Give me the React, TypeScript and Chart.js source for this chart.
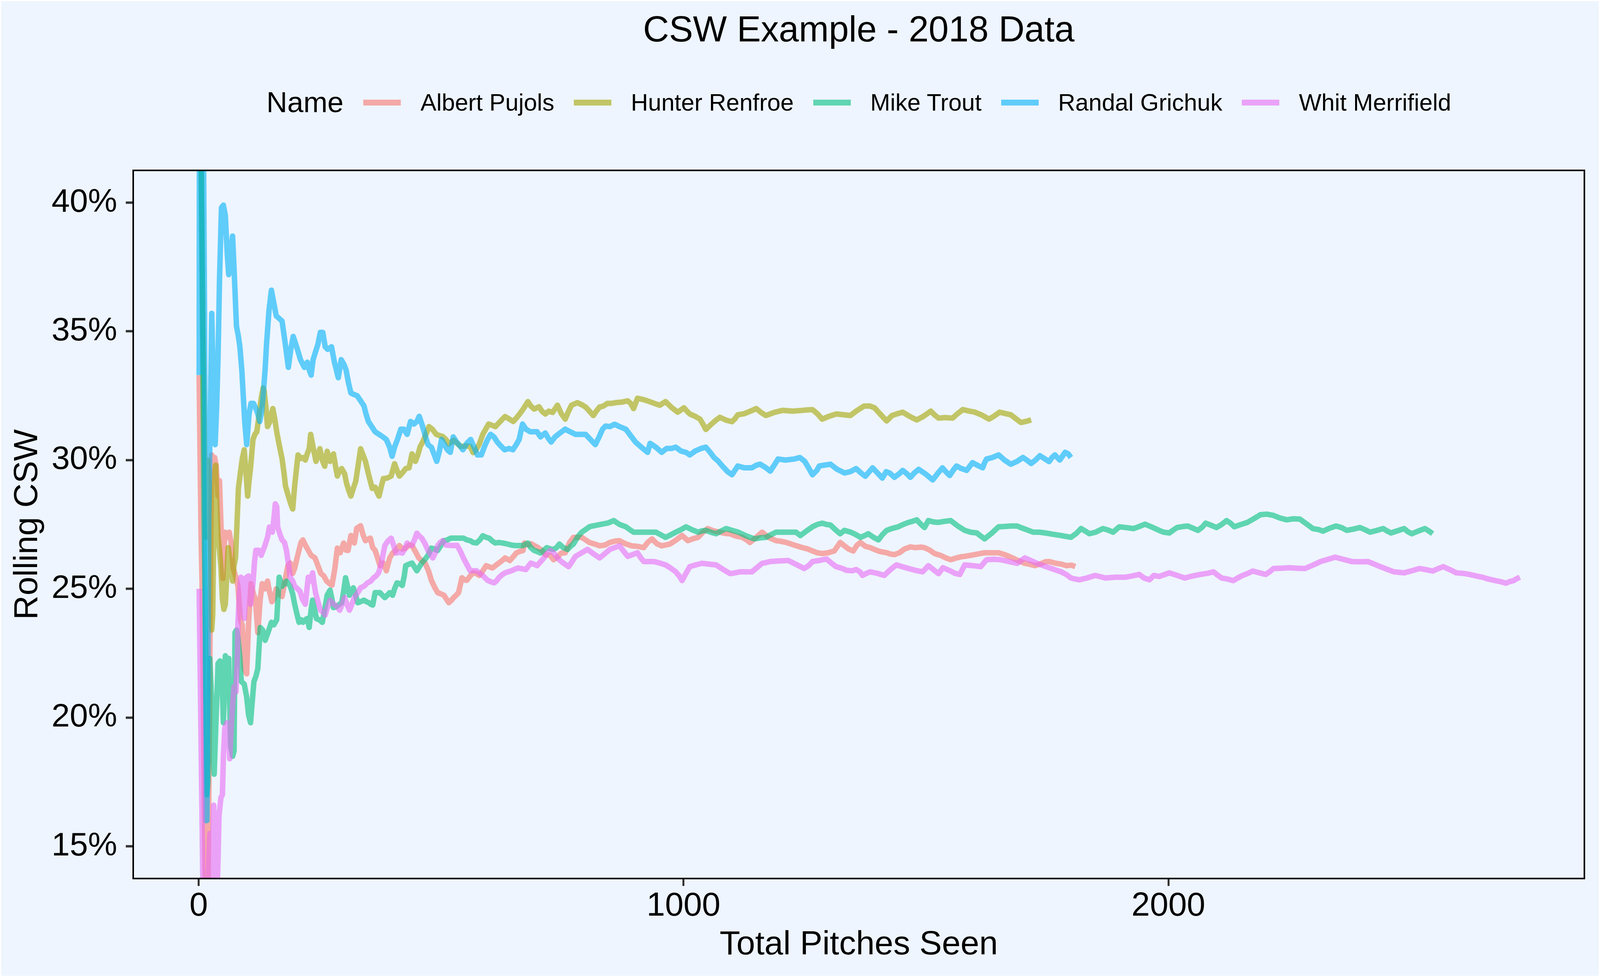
import { useEffect, useRef } from "react";
import { Chart, registerables } from "chart.js";

Chart.register(...registerables);

const title = "CSW Example - 2018 Data";
const legendTitle = "Name";
const xAxisTitle = "Total Pitches Seen";
const yAxisTitle = "Rolling CSW";

const names = ["Albert Pujols", "Hunter Renfroe", "Mike Trout", "Randal Grichuk", "Whit Merrifield"];
const colors = ["#F8766D", "#A3A500", "#00BF7D", "#00B0F6", "#E76BF3"];

const xTickValues = [0, 1000, 2000];
const yTickValues = [15, 20, 25, 30, 35, 40];

// Albert Pujols
const pujolsPitches = [
  1, 3, 5, 7, 9, 11, 13, 15, 17, 19, 21, 23, 25, 27, 30, 33, 36, 40, 43, 46, 50, 54, 58, 63, 67, 71, 76, 81, 86, 90,
  94, 99, 103, 108, 113, 117, 122, 127, 131, 137, 142, 146, 151, 155, 160, 165, 172, 179, 184, 189, 194, 198, 203, 207,
  211, 215, 220, 226, 232, 240, 246, 252, 258, 264, 270, 275, 281, 286, 292, 299, 304, 308, 314, 321, 326, 334, 339,
  344, 354, 359, 364, 369, 374, 381, 387, 394, 400, 407, 414, 420, 427, 434, 440, 447, 454, 460, 467, 474, 480, 487,
  493, 500, 506, 511, 516, 521, 526, 531, 536, 543, 548, 553, 560, 566, 572, 579, 586, 593, 600, 606, 612, 619, 626,
  632, 637, 642, 649, 655, 662, 669, 672, 680, 686, 692, 700, 708, 715, 725, 732, 738, 748, 756, 765, 773, 781, 790,
  798, 806, 815, 827, 838, 848, 858, 868, 880, 893, 905, 918, 926, 935, 945, 955, 963, 972, 985, 997, 1009, 1020, 1030,
  1040, 1050, 1062, 1075, 1086, 1096, 1108, 1121, 1130, 1137, 1150, 1162, 1175, 1191, 1200, 1212, 1228, 1245, 1256,
  1266, 1276, 1286, 1298, 1311, 1323, 1332, 1340, 1350, 1358, 1365, 1375, 1385, 1394, 1405, 1419, 1427, 1435, 1445,
  1456, 1468, 1478, 1490, 1497, 1508, 1518, 1530, 1541, 1551, 1563, 1574, 1580, 1592, 1606, 1621, 1635, 1650, 1662,
  1675, 1690, 1704, 1715, 1725, 1738, 1746, 1754, 1766, 1779, 1790, 1800, 1808,
];
const pujolsCsw = [
  33.3, 30, 27, 25.2, 22, 18, 14.5, 12, 10, 13, 17, 22, 27, 30.2, 29.5, 30.1, 29.8, 28.6, 29.2, 27.5, 25.4, 27.2, 27.0,
  27.2, 26.8, 25.8, 25.5, 25.1, 23.8, 23.6, 21.9, 21.7, 23.7, 25.2, 24.8, 24.6, 23.3, 24.6, 25.2, 25.0, 25.3, 24.9,
  24.5, 24.6, 25.0, 24.8, 24.7, 25.4, 25.9, 26.0, 25.6, 25.8, 26.2, 26.5, 26.8, 26.9, 26.7, 26.5, 26.3, 26.2, 25.9,
  25.6, 25.5, 25.3, 25.2, 25.14, 25.8, 26.58, 26.4, 26.78, 26.5, 26.49, 27.07, 26.78, 27.35, 27.45, 27.1, 26.87, 26.97,
  26.6, 26.49, 26.2, 25.9, 26.0, 25.7, 26.2, 26.39, 26.5, 26.68, 26.55, 26.58, 26.7, 26.68, 26.45, 26.2, 26.1, 26.0,
  25.7, 25.33, 25.05, 24.85, 24.8, 24.75, 24.6, 24.46, 24.55, 24.66, 24.75, 24.85, 25.43, 25.35, 25.33, 25.5, 25.62,
  25.6, 25.52, 25.7, 25.9, 25.85, 25.81, 25.9, 26.0, 26.1, 26.2, 26.15, 26.1, 26.25, 26.39, 26.45, 26.49, 26.78, 26.7,
  26.75, 26.68, 26.6, 26.49, 26.33, 26.3, 26.13, 26.2, 26.39, 26.4, 26.8, 27.0, 27.0, 27.0, 26.9, 26.8, 26.75, 26.67,
  26.7, 26.8, 26.85, 26.87, 26.75, 26.67, 26.65, 26.6, 26.8, 26.94, 26.75, 26.67, 26.7, 26.74, 26.9, 27.07, 26.87,
  26.95, 27.0, 27.2, 27.34, 27.25, 27.2, 27.15, 27.14, 27.05, 27.0, 26.9, 26.8, 27.0, 27.2, 27.0, 26.87, 26.85, 26.8,
  26.7, 26.6, 26.55, 26.47, 26.4, 26.37, 26.4, 26.47, 26.8, 26.67, 26.55, 26.47, 26.7, 26.8, 26.65, 26.6, 26.53, 26.45,
  26.4, 26.35, 26.33, 26.4, 26.55, 26.63, 26.6, 26.62, 26.6, 26.5, 26.37, 26.3, 26.2, 26.13, 26.2, 26.25, 26.26, 26.3,
  26.35, 26.4, 26.4, 26.4, 26.33, 26.23, 26.1, 25.99, 25.95, 25.9, 25.98, 26.05, 26.06, 26.0, 25.96, 25.9, 25.92, 25.86,
];

// Hunter Renfroe
const renfroePitches = [
  1, 3, 5, 7, 9, 11, 13, 15, 17, 19, 21, 23, 25, 27, 29, 31, 33, 35, 37, 40, 43, 46, 49, 52, 55, 58, 61, 64, 67, 70, 73,
  76, 79, 82, 86, 90, 94, 98, 101, 104, 107, 112, 116, 120, 125, 129, 133, 135, 139, 142, 147, 150, 153, 157, 161, 166,
  172, 176, 179, 185, 190, 194, 198, 202, 205, 211, 216, 220, 225, 228, 231, 236, 242, 246, 250, 255, 260, 265, 271,
  278, 282, 286, 291, 295, 301, 305, 310, 314, 319, 324, 329, 334, 339, 344, 351, 358, 364, 368, 372, 377, 381, 389,
  397, 404, 409, 414, 420, 427, 434, 440, 447, 452, 457, 462, 467, 471, 475, 482, 490, 497, 503, 510, 516, 521, 526,
  533, 540, 550, 560, 566, 572, 579, 586, 592, 598, 605, 612, 617, 622, 627, 632, 640, 649, 656, 662, 670, 679, 685,
  692, 702, 708, 715, 722, 730, 740, 748, 756, 763, 769, 775, 781, 790, 798, 806, 814, 820, 827, 835, 843, 851, 860,
  872, 885, 891, 897, 905, 917, 930, 940, 951, 957, 963, 975, 988, 995, 1001, 1007, 1013, 1024, 1034, 1040, 1046, 1052,
  1059, 1067, 1075, 1088, 1100, 1106, 1112, 1125, 1138, 1150, 1160, 1170, 1187, 1204, 1225, 1245, 1256, 1266, 1276,
  1286, 1300, 1315, 1330, 1344, 1356, 1364, 1373, 1384, 1394, 1405, 1419, 1430, 1441, 1452, 1466, 1481, 1495, 1510,
  1518, 1526, 1540, 1555, 1565, 1576, 1590, 1601, 1615, 1630, 1640, 1652, 1665, 1675, 1686, 1696, 1706, 1717,
];
const renfroeCsw = [
  50, 45, 42, 38, 35, 32, 29, 27, 29.5, 30, 29, 28, 26, 23.4, 24, 27, 29.5, 29.8, 28.5, 27, 26.5, 25.8, 24.6, 24.2,
  24.4, 25.5, 26.6, 26.2, 25.8, 25.3, 25.9, 26.2, 27.5, 28.9, 29.5, 30.06, 30.4, 29.4, 28.6, 29.2, 29.7, 30.8, 31.0,
  31.1, 31.8, 32.4, 32.8, 32.7, 32.0, 31.3, 31.5, 31.8, 32.0, 31.6, 31.1, 30.6, 30.06, 29.5, 29.0, 28.6, 28.3, 28.1,
  29.0, 29.7, 30.2, 30.06, 30.1, 30.0, 30.3, 30.44, 31.0, 30.5, 29.95, 30.2, 30.44, 30.0, 29.76, 30.34, 29.95, 30.24,
  29.8, 29.38, 29.6, 29.67, 29.47, 29.1, 28.8, 28.6, 28.9, 29.18, 29.8, 30.44, 30.2, 29.95, 29.4, 28.9, 28.95, 28.75,
  28.6, 29.0, 29.28, 29.3, 29.38, 29.86, 29.6, 29.38, 29.5, 29.67, 29.7, 30.24, 29.95, 30.2, 30.53, 30.7, 30.92, 31.1,
  31.3, 31.2, 31.0, 30.95, 30.92, 30.8, 30.63, 30.7, 30.77, 30.65, 30.53, 30.55, 30.53, 30.29, 30.4, 30.63, 31.0, 31.2,
  31.4, 31.35, 31.3, 31.4, 31.5, 31.6, 31.69, 31.6, 31.5, 31.65, 31.79, 32.0, 32.27, 32.1, 31.98, 32.07, 31.9, 31.79,
  31.9, 31.85, 32.13, 31.8, 31.59, 31.9, 32.13, 32.18, 32.23, 32.15, 32.06, 31.9, 31.73, 31.9, 32.06, 32.1, 32.2, 32.2,
  32.23, 32.25, 32.3, 32.2, 32.0, 32.4, 32.35, 32.27, 32.2, 32.13, 32.2, 32.27, 32.05, 31.86, 31.95, 32.03, 31.9, 31.79,
  31.7, 31.59, 31.4, 31.19, 31.3, 31.42, 31.55, 31.66, 31.55, 31.49, 31.6, 31.76, 31.8, 31.9, 32.0, 31.85, 31.73,
  31.85, 31.93, 31.9, 31.93, 31.95, 31.96, 31.8, 31.59, 31.7, 31.79, 31.76, 31.73, 31.9, 32.0, 32.1, 32.1, 32.03, 31.8,
  31.52, 31.73, 31.8, 31.86, 31.7, 31.56, 31.7, 31.9, 31.75, 31.63, 31.65, 31.63, 31.8, 31.96, 31.9, 31.86, 31.75,
  31.59, 31.7, 31.86, 31.8, 31.76, 31.6, 31.46, 31.5, 31.56,
];

// Mike Trout
const troutPitches = [
  1, 3, 5, 7, 9, 11, 13, 15, 17, 19, 21, 23, 26, 29, 32, 35, 38, 40, 44, 47, 49, 51, 53, 55, 59, 62, 64, 66, 70, 73, 75,
  78, 81, 85, 88, 94, 99, 103, 107, 110, 114, 118, 122, 127, 132, 137, 143, 150, 155, 161, 166, 172, 177, 181, 185,
  189, 194, 198, 203, 207, 211, 215, 220, 224, 228, 232, 235, 239, 243, 249, 255, 260, 265, 271, 275, 278, 283, 288,
  295, 299, 303, 307, 311, 315, 319, 324, 328, 334, 341, 346, 351, 355, 359, 364, 369, 374, 379, 384, 389, 394, 400,
  404, 409, 415, 420, 424, 427, 433, 440, 445, 450, 455, 460, 467, 473, 480, 486, 493, 500, 506, 513, 520, 527, 533,
  540, 546, 553, 560, 566, 573, 580, 586, 593, 599, 606, 612, 619, 626, 632, 639, 645, 652, 660, 669, 679, 685, 692,
  698, 705, 712, 718, 726, 732, 738, 744, 752, 761, 767, 773, 781, 790, 798, 806, 815, 823, 831, 843, 850, 856, 868,
  881, 889, 897, 910, 922, 932, 943, 953, 963, 974, 984, 995, 1005, 1017, 1030, 1038, 1046, 1056, 1067, 1078, 1088,
  1100, 1113, 1130, 1146, 1158, 1170, 1180, 1191, 1210, 1232, 1241, 1254, 1266, 1276, 1286, 1295, 1303, 1313, 1323,
  1332, 1345, 1356, 1365, 1374, 1381, 1392, 1402, 1410, 1419, 1431, 1443, 1453, 1464, 1472, 1481, 1490, 1497, 1505,
  1515, 1526, 1538, 1551, 1565, 1580, 1592, 1605, 1613, 1621, 1635, 1650, 1662, 1675, 1688, 1700, 1710, 1721, 1734,
  1746, 1762, 1779, 1790, 1799, 1810, 1820, 1828, 1837, 1850, 1865, 1876, 1886, 1892, 1899, 1912, 1928, 1940, 1952,
  1966, 1981, 1990, 2002, 2010, 2018, 2030, 2040, 2050, 2061, 2070, 2077, 2088, 2099, 2110, 2120, 2128, 2136, 2150,
  2163, 2176, 2190, 2203, 2217, 2230, 2244, 2258, 2271, 2285, 2298, 2310, 2319, 2332, 2346, 2357, 2368, 2382, 2395,
  2405, 2416, 2430, 2443, 2451, 2459, 2472, 2486, 2494, 2502, 2515, 2529, 2537, 2545,
];
const troutCsw = [
  50, 45, 42, 38, 33, 28, 25, 21, 17, 17.5, 20, 22.3, 21, 19, 17.8, 19.5, 21, 22.1, 22.2, 22.1, 21, 19.8, 21, 22.4,
  22.1, 22.3, 20.5, 18.9, 18.5, 18.7, 23.3, 23.4, 23.1, 22.3, 21.4, 21.3, 20.8, 20.1, 19.8, 20.5, 21.4, 21.6, 21.9,
  23.5, 23.4, 23.0, 23.3, 23.7, 23.6, 23.8, 25.45, 25.1, 25.2, 25.3, 25.2, 25.1, 24.8, 24.4, 24.0, 23.7, 23.8, 23.7,
  23.8, 23.85, 23.5, 24.2, 24.56, 24.2, 23.84, 23.8, 23.7, 24.2, 24.75, 24.95, 24.6, 24.27, 24.3, 24.37, 24.46, 24.9,
  25.43, 25.1, 24.75, 24.9, 25.04, 24.75, 24.46, 24.5, 24.56, 24.5, 24.46, 24.4, 24.37, 24.85, 24.85, 24.85, 24.75,
  24.66, 24.75, 24.85, 24.75, 25.0, 25.23, 25.2, 25.13, 25.5, 25.9, 25.95, 26.0, 25.85, 25.7, 25.85, 26.0, 26.15, 26.3,
  26.58, 26.55, 26.49, 26.7, 26.87, 26.9, 26.97, 26.97, 26.97, 26.97, 26.97, 26.9, 26.87, 26.8, 26.78, 26.9, 27.06,
  27.0, 26.97, 26.85, 26.78, 26.8, 26.78, 26.76, 26.73, 26.7, 26.68, 26.68, 26.68, 26.78, 26.6, 26.49, 26.45, 26.39,
  26.5, 26.6, 26.55, 26.53, 26.6, 26.74, 26.6, 26.53, 26.65, 26.74, 27.0, 27.2, 27.3, 27.41, 27.45, 27.48, 27.51, 27.55,
  27.6, 27.65, 27.5, 27.41, 27.3, 27.2, 27.2, 27.2, 27.2, 27.2, 27.1, 27.0, 27.1, 27.2, 27.3, 27.41, 27.3, 27.2, 27.25,
  27.27, 27.2, 27.14, 27.25, 27.34, 27.27, 27.2, 27.05, 26.94, 26.98, 27.0, 27.1, 27.2, 27.2, 27.2, 27.07, 27.25,
  27.41, 27.5, 27.55, 27.5, 27.48, 27.3, 27.14, 27.27, 27.2, 27.1, 27.0, 27.07, 27.14, 27.0, 26.9, 27.1, 27.27, 27.35,
  27.41, 27.5, 27.58, 27.62, 27.68, 27.5, 27.38, 27.65, 27.6, 27.58, 27.62, 27.65, 27.45, 27.27, 27.2, 27.17, 27.05,
  26.94, 27.15, 27.41, 27.42, 27.44, 27.44, 27.35, 27.28, 27.2, 27.2, 27.17, 27.12, 27.07, 27.03, 27.0, 27.15, 27.34,
  27.25, 27.14, 27.2, 27.34, 27.28, 27.2, 27.3, 27.41, 27.38, 27.34, 27.42, 27.51, 27.4, 27.27, 27.2, 27.17, 27.28,
  27.38, 27.42, 27.44, 27.36, 27.27, 27.4, 27.55, 27.47, 27.38, 27.5, 27.65, 27.55, 27.41, 27.5, 27.58, 27.72, 27.88,
  27.9, 27.85, 27.75, 27.68, 27.72, 27.71, 27.52, 27.34, 27.3, 27.24, 27.35, 27.44, 27.38, 27.27, 27.32, 27.38, 27.3,
  27.2, 27.27, 27.34, 27.25, 27.17, 27.25, 27.34, 27.22, 27.14, 27.24, 27.34, 27.25, 27.14,
];

// Randal Grichuk
const grichukPitches = [
  1, 2, 4, 6, 8, 10, 12, 13, 14, 15, 17, 19, 21, 23, 25, 27, 29, 32, 34, 37, 40, 43, 47, 51, 55, 59, 62, 66, 70, 74, 78,
  82, 85, 89, 92, 95, 99, 104, 108, 113, 118, 122, 126, 130, 133, 137, 140, 145, 150, 155, 160, 166, 172, 178, 185,
  190, 195, 202, 210, 218, 224, 228, 232, 236, 241, 246, 251, 256, 261, 266, 274, 280, 288, 294, 300, 304, 309, 314,
  320, 327, 334, 341, 345, 350, 357, 364, 372, 380, 387, 394, 399, 404, 410, 417, 423, 430, 437, 444, 450, 455, 462,
  468, 473, 480, 486, 491, 496, 501, 507, 513, 519, 525, 532, 539, 545, 553, 561, 568, 575, 583, 590, 596, 602, 609,
  616, 623, 631, 640, 648, 655, 661, 668, 675, 684, 691, 698, 705, 711, 715, 721, 727, 735, 745, 756, 766, 777, 790,
  798, 808, 818, 826, 833, 839, 848, 858, 868, 881, 891, 901, 913, 926, 931, 943, 955, 965, 975, 984, 995, 1005, 1013,
  1024, 1036, 1046, 1055, 1063, 1071, 1081, 1091, 1100, 1106, 1112, 1125, 1141, 1150, 1158, 1170, 1179, 1187, 1195,
  1210, 1228, 1240, 1250, 1258, 1266, 1275, 1280, 1290, 1303, 1316, 1332, 1344, 1356, 1366, 1375, 1390, 1400, 1410,
  1418, 1425, 1435, 1445, 1452, 1460, 1468, 1476, 1485, 1500, 1514, 1525, 1534, 1541, 1549, 1556, 1563, 1572, 1584,
  1590, 1596, 1606, 1617, 1621, 1625, 1637, 1650, 1662, 1675, 1688, 1700, 1708, 1717, 1726, 1735, 1745, 1754, 1760,
  1766, 1776, 1787, 1793, 1799,
];
const grichukCsw = [
  33.3, 50, 48, 45, 43, 42, 36, 30.6, 24, 16, 16, 22, 28, 30.6, 33, 35.7, 34, 31.5, 30.6, 32, 34, 37, 39.8, 39.9, 39.5,
  38, 37.2, 38, 38.7, 37, 35.2, 34.8, 34.4, 33.5, 32.5, 31.5, 30.6, 31.8, 32.2, 32.2, 32.0, 31.8, 31.5, 31.9, 32.5,
  33.5, 34.5, 35.8, 36.6, 36.1, 35.6, 35.5, 35.4, 34.6, 33.6, 34.3, 34.8, 34.4, 33.9, 33.6, 33.8, 33.5, 33.3, 33.9,
  34.2, 34.5, 34.96, 34.96, 34.4, 34.3, 34.4, 33.8, 33.2, 33.9, 33.7, 33.5, 33.0, 32.6, 32.55, 32.5, 32.3, 32.1, 31.8,
  31.5, 31.3, 31.1, 31.0, 30.9, 30.8, 30.5, 30.15, 30.5, 30.8, 31.2, 31.2, 31.0, 31.5, 31.4, 31.5, 31.7, 31.3, 30.9,
  30.6, 30.5, 30.2, 29.95, 30.3, 30.8, 30.6, 30.4, 30.3, 30.9, 30.7, 30.55, 30.4, 30.65, 30.8, 30.5, 30.2, 30.2, 30.55,
  30.8, 31.0, 30.9, 30.7, 30.55, 30.4, 30.45, 30.4, 30.6, 30.8, 31.4, 31.2, 31.1, 31.1, 31.1, 30.9, 31.0, 31.05, 30.85,
  30.7, 30.9, 31.05, 31.2, 31.1, 31.0, 31.0, 31.0, 30.8, 30.6, 30.9, 31.2, 31.32, 31.3, 31.39, 31.3, 31.2, 30.95, 30.7,
  30.5, 30.3, 30.65, 30.5, 30.3, 30.45, 30.45, 30.5, 30.35, 30.3, 30.2, 30.35, 30.45, 30.5, 30.3, 30.1, 29.97, 29.75,
  29.55, 29.43, 29.6, 29.77, 29.7, 29.7, 29.8, 29.84, 29.7, 29.57, 29.8, 30.04, 30.0, 30.04, 30.1, 29.95, 29.7, 29.43,
  29.6, 29.77, 29.8, 29.84, 29.65, 29.5, 29.55, 29.67, 29.5, 29.37, 29.7, 29.5, 29.3, 29.55, 29.5, 29.33, 29.47, 29.6,
  29.48, 29.33, 29.5, 29.64, 29.45, 29.23, 29.5, 29.7, 29.55, 29.4, 29.6, 29.77, 29.68, 29.6, 29.75, 29.9, 29.8, 29.7,
  29.9, 30.04, 30.1, 30.2, 30.0, 29.84, 29.95, 30.1, 30.0, 29.87, 30.0, 30.17, 30.05, 29.94, 30.1, 30.2, 30.0, 30.3,
  30.25, 30.1,
];

// Whit Merrifield
const merrifieldPitches = [
  1, 3, 5, 7, 9, 11, 13, 15, 17, 19, 21, 23, 25, 27, 29, 31, 33, 36, 38, 40, 42, 46, 49, 51, 54, 58, 62, 64, 67, 70, 73,
  77, 80, 81, 84, 87, 90, 94, 97, 99, 103, 107, 112, 115, 118, 124, 129, 133, 137, 142, 146, 152, 155, 158, 161, 163,
  168, 172, 177, 181, 185, 189, 194, 198, 204, 209, 214, 220, 226, 231, 235, 238, 241, 246, 251, 256, 261, 266, 271,
  276, 281, 286, 291, 296, 301, 306, 311, 316, 321, 328, 334, 341, 348, 355, 361, 366, 371, 374, 377, 381, 384, 390,
  397, 402, 407, 414, 420, 425, 430, 435, 440, 445, 450, 455, 460, 467, 473, 478, 483, 488, 493, 498, 503, 510, 516,
  524, 533, 540, 546, 553, 560, 566, 573, 580, 586, 591, 596, 602, 609, 614, 619, 626, 632, 638, 645, 652, 659, 667,
  675, 680, 685, 692, 698, 705, 712, 718, 725, 732, 740, 748, 756, 763, 770, 777, 790, 802, 815, 827, 838, 848, 858,
  868, 877, 885, 895, 905, 912, 918, 930, 939, 951, 963, 974, 984, 991, 997, 1005, 1013, 1025, 1038, 1052, 1067, 1082,
  1096, 1106, 1117, 1130, 1141, 1150, 1162, 1170, 1179, 1195, 1216, 1232, 1249, 1258, 1266, 1280, 1295, 1305, 1315,
  1326, 1336, 1348, 1356, 1364, 1369, 1377, 1385, 1400, 1414, 1427, 1439, 1451, 1464, 1478, 1493, 1505, 1515, 1526,
  1535, 1550, 1560, 1570, 1580, 1597, 1613, 1625, 1640, 1654, 1671, 1688, 1704, 1716, 1729, 1742, 1754, 1766, 1779,
  1790, 1799, 1808, 1816, 1832, 1849, 1860, 1870, 1890, 1911, 1925, 1940, 1950, 1961, 1970, 1981, 2002, 2018, 2034,
  2050, 2066, 2080, 2093, 2100, 2110, 2122, 2134, 2143, 2153, 2164, 2174, 2188, 2201, 2210, 2217, 2233, 2249, 2265,
  2282, 2298, 2314, 2330, 2344, 2360, 2378, 2395, 2411, 2422, 2432, 2448, 2465, 2476, 2486, 2502, 2518, 2532, 2545,
  2556, 2567, 2580, 2594, 2608, 2621, 2635, 2648, 2660, 2674, 2685, 2696, 2704, 2712, 2719, 2725,
];
const merrifieldCsw = [
  25, 22, 19, 16, 13, 10, 8, 10, 12, 13, 14.5, 15.5, 13.5, 12.5, 14.5, 16.6, 15.5, 14, 13.2, 14.5, 16.2, 16.9, 17,
  18.5, 19.6, 19.8, 19.4, 18.4, 19.5, 20.5, 21.2, 21.0, 22.5, 23.7, 24.8, 25.45, 25.4, 23.85, 24.8, 25.45, 25.5, 24.4,
  25.2, 26.0, 26.5, 26.5, 26.3, 26.5, 26.7, 27.0, 27.4, 27.2, 27.7, 28.3, 28.2, 27.4, 27.1, 26.9, 26.8, 26.5, 26.0,
  25.45, 25.3, 25.1, 25.0, 24.9, 24.6, 24.4, 25.45, 25.3, 25.62, 25.2, 24.85, 24.5, 24.17, 24.1, 23.98, 24.3, 24.56,
  24.45, 24.37, 24.3, 24.17, 24.4, 24.66, 24.4, 24.17, 24.4, 24.66, 24.85, 25.04, 25.1, 25.23, 25.3, 25.43, 25.5,
  25.62, 25.8, 26.0, 26.4, 26.68, 26.85, 26.97, 26.7, 26.39, 26.42, 26.39, 26.55, 26.78, 26.7, 26.69, 26.9, 27.16,
  27.05, 26.97, 26.75, 26.49, 26.35, 26.2, 26.4, 26.68, 26.8, 26.87, 26.7, 26.69, 26.68, 26.69, 26.45, 26.2, 25.95,
  25.7, 25.7, 25.7, 25.6, 25.52, 25.42, 25.33, 25.28, 25.23, 25.3, 25.43, 25.55, 25.62, 25.66, 25.7, 25.76, 25.81,
  25.78, 25.75, 25.88, 26.0, 25.95, 25.9, 26.05, 26.2, 26.35, 26.49, 26.4, 26.2, 26.06, 25.95, 25.86, 26.05, 26.26,
  26.4, 26.53, 26.35, 26.2, 26.37, 26.53, 26.6, 26.67, 26.45, 26.26, 26.33, 26.4, 26.2, 26.06, 26.06, 26.06, 26.0,
  25.93, 25.8, 25.66, 25.5, 25.32, 25.6, 25.86, 25.93, 25.99, 25.96, 25.93, 25.75, 25.59, 25.62, 25.66, 25.66, 25.66,
  25.8, 25.99, 26.02, 26.06, 26.08, 26.1, 25.95, 25.79, 25.9, 26.06, 26.1, 26.16, 26.0, 25.86, 25.8, 25.72, 25.7,
  25.75, 25.66, 25.52, 25.6, 25.66, 25.6, 25.52, 25.75, 25.93, 25.86, 25.79, 25.72, 25.66, 25.9, 25.75, 25.59, 25.82,
  25.7, 25.6, 25.56, 25.93, 25.9, 25.86, 26.13, 26.15, 26.13, 26.06, 25.99, 26.2, 26.1, 25.99, 25.9, 25.82, 25.74,
  25.66, 25.55, 25.42, 25.38, 25.35, 25.42, 25.52, 25.47, 25.42, 25.45, 25.45, 25.5, 25.56, 25.42, 25.35, 25.52, 25.48,
  25.62, 25.52, 25.42, 25.5, 25.56, 25.6, 25.66, 25.55, 25.42, 25.38, 25.32, 25.42, 25.52, 25.6, 25.69, 25.62, 25.56,
  25.68, 25.79, 25.8, 25.82, 25.8, 25.79, 25.92, 26.06, 26.15, 26.23, 26.15, 26.06, 26.05, 26.06, 25.98, 25.9, 25.78,
  25.66, 25.64, 25.62, 25.7, 25.79, 25.74, 25.69, 25.78, 25.86, 25.75, 25.62, 25.6, 25.56, 25.5, 25.45, 25.38, 25.32,
  25.28, 25.22, 25.28, 25.32, 25.4, 25.45,
];

const seriesPitches = [pujolsPitches, renfroePitches, troutPitches, grichukPitches, merrifieldPitches];
const seriesCsw = [pujolsCsw, renfroeCsw, troutCsw, grichukCsw, merrifieldCsw];

const FONT = "'Liberation Sans', Arial, sans-serif";
const BG = "#EEF5FE";

// The window we get is narrower than asked for, so the panel stretches to
// whatever width there is and the margins stay fixed, as ggplot would do.
const W = typeof window !== "undefined" && window.innerWidth ? window.innerWidth : 5000;
const H = typeof window !== "undefined" && window.innerHeight ? window.innerHeight : 2500;
const LEFT = 341;
const RIGHT_PAD = 40;

function withAlpha(hex: string, a: number) {
  const r = parseInt(hex.slice(1, 3), 16);
  const g = parseInt(hex.slice(3, 5), 16);
  const b = parseInt(hex.slice(5, 7), 16);
  return `rgba(${r},${g},${b},${a})`;
}

const panelBorder = {
  id: "panelBorder",
  afterDatasetsDraw(chart: Chart) {
    const { ctx, chartArea } = chart;
    ctx.save();
    ctx.strokeStyle = "#000000";
    ctx.lineWidth = 4;
    ctx.strokeRect(chartArea.left, chartArea.top, chartArea.right - chartArea.left, chartArea.bottom - chartArea.top);
    ctx.restore();
  },
};

function CswChart() {
  const canvasRef = useRef<HTMLCanvasElement | null>(null);
  const chartRef = useRef<Chart | null>(null);

  useEffect(() => {
    if (!canvasRef.current) {
      return;
    }
    if (chartRef.current) {
      chartRef.current.destroy();
    }

    const datasets = names.map((name, i) => ({
      label: name,
      data: seriesPitches[i].map((p, j) => ({ x: p, y: seriesCsw[i][j] })),
      borderColor: withAlpha(colors[i], 0.6),
      backgroundColor: withAlpha(colors[i], 0.6),
      borderWidth: 14,
      borderJoinStyle: "round" as const,
      borderCapStyle: "butt" as const,
      pointRadius: 0,
      tension: 0,
      fill: false,
      clip: 0,
      order: names.length - 1 - i,
    }));

    chartRef.current = new Chart(canvasRef.current, {
      type: "line",
      data: { datasets },
      plugins: [panelBorder],
      options: {
        animation: false,
        responsive: false,
        devicePixelRatio: 1,
        layout: { padding: { top: 436, right: RIGHT_PAD, bottom: 0, left: 0 } },
        plugins: {
          legend: { display: false },
          title: { display: false },
          tooltip: { enabled: false },
        },
        scales: {
          x: {
            type: "linear",
            min: -135,
            max: 2858,
            afterBuildTicks: (scale) => {
              scale.ticks = xTickValues.map((v) => ({ value: v }));
            },
            afterFit: (scale) => {
              scale.height = H - 2248;
            },
            ticks: {
              callback: (v) => String(v),
              color: "#000000",
              padding: 10,
              font: { family: FONT, size: 85, lineHeight: 1 },
            },
            grid: {
              display: true,
              drawOnChartArea: false,
              drawTicks: true,
              tickLength: 19,
              tickWidth: 5,
              tickColor: "#333333",
            },
            border: { display: false },
            title: {
              display: true,
              text: xAxisTitle,
              color: "#000000",
              font: { family: FONT, size: 86, lineHeight: 1 },
              padding: { top: 0, bottom: 39 },
            },
          },
          y: {
            type: "linear",
            min: 13.75,
            max: 41.25,
            afterBuildTicks: (scale) => {
              scale.ticks = yTickValues.map((v) => ({ value: v }));
            },
            afterFit: (scale) => {
              scale.width = LEFT;
            },
            ticks: {
              callback: (v) => `${v}%`,
              color: "#000000",
              padding: 22,
              font: { family: FONT, size: 84, lineHeight: 1 },
            },
            grid: {
              display: true,
              drawOnChartArea: false,
              drawTicks: true,
              tickLength: 19,
              tickWidth: 6,
              tickColor: "#333333",
            },
            border: { display: false },
            title: {
              display: true,
              text: yAxisTitle,
              color: "#000000",
              font: { family: FONT, size: 86, lineHeight: 1 },
              padding: { top: 28, bottom: 0 },
            },
          },
        },
      },
    });

    return () => {
      chartRef.current?.destroy();
      chartRef.current = null;
    };
  }, []);

  return <canvas ref={canvasRef} width={W} height={H} style={{ position: "absolute", left: 0, top: 0 }} />;
}

export default function App() {
  const panelWidth = W - LEFT - RIGHT_PAD;
  return (
    <div
      style={{
        position: "fixed",
        left: 0,
        top: 0,
        width: W,
        height: H,
        background: BG,
        fontFamily: FONT,
        color: "#000000",
        overflow: "hidden",
      }}
    >
      <div
        style={{
          position: "absolute",
          left: LEFT,
          width: panelWidth,
          top: 28,
          fontSize: 92,
          lineHeight: "92px",
          textAlign: "center",
          whiteSpace: "nowrap",
        }}
      >
        {title}
      </div>
      <div
        style={{
          position: "absolute",
          left: LEFT,
          width: panelWidth,
          top: 212,
          height: 100,
          display: "flex",
          alignItems: "center",
          justifyContent: "center",
          whiteSpace: "nowrap",
        }}
      >
        <span style={{ fontSize: 74, lineHeight: "74px", marginRight: 51 }}>{legendTitle}</span>
        {names.map((name, i) => (
          <span key={name} style={{ display: "flex", alignItems: "center", marginRight: i < names.length - 1 ? 50 : 0 }}>
            <span style={{ display: "block", width: 96, height: 15, background: withAlpha(colors[i], 0.6), marginRight: 50 }} />
            <span style={{ fontSize: 61, lineHeight: "61px" }}>{name}</span>
          </span>
        ))}
      </div>
      <CswChart />
      <div
        style={{
          position: "absolute",
          left: 0,
          top: 0,
          width: W,
          height: H,
          boxShadow: "inset 0 0 0 3px #ffffff",
          pointerEvents: "none",
        }}
      />
    </div>
  );
}
